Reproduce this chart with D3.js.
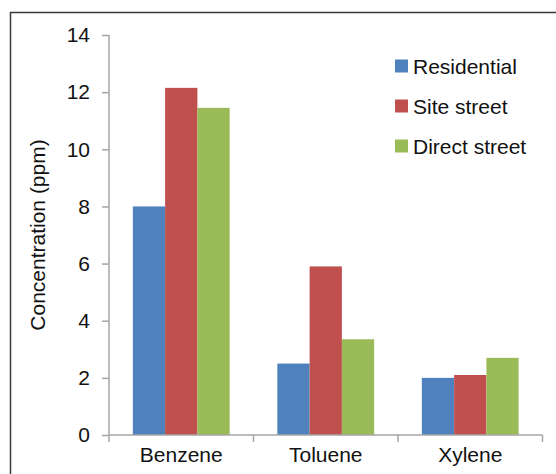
<!DOCTYPE html>
<html>
<head>
<meta charset="utf-8">
<script src="https://cdn.jsdelivr.net/npm/d3@7"></script>
<style>
  html, body { margin: 0; padding: 0; background: #fff; }
  svg { display: block; font-family: "Liberation Sans", Arial, sans-serif; }
</style>
</head>
<body>
<svg id="chart" width="556" height="474"></svg>
<script>
// Pollutant concentrations by sampling location
const compounds = ["Benzene", "Toluene", "Xylene"];
const locations = ["Residential", "Site street", "Direct street"];
const residential = [8.0, 2.5, 2.0];
const siteStreet = [12.15, 5.9, 2.1];
const directStreet = [11.45, 3.35, 2.7];
const yTicks = [0, 2, 4, 6, 8, 10, 12, 14];
const colors = ["#4F81BD", "#C0504D", "#9BBB59"];

const seriesValues = [residential, siteStreet, directStreet];
const FONT = "21px";

const svg = d3.select("#chart");
const margin = { left: 109, right: 13.5, top: 35, bottom: 39 };
const W = 556, H = 474;

// outer frame
svg.append("rect")
  .attr("x", 10.5).attr("y", 12.5)
  .attr("width", 560).attr("height", 480)
  .attr("fill", "none").attr("stroke", "#3a3a3a").attr("stroke-width", 1.5);

const x = d3.scaleBand()
  .domain(compounds)
  .range([margin.left, W - margin.right])
  .paddingInner(0).paddingOuter(0);

// each group of bars occupies the middle two thirds of its band
const x1 = d3.scaleBand()
  .domain(locations)
  .range([x.bandwidth() * 0.165, x.bandwidth() * 0.835])
  .paddingInner(0).paddingOuter(0);

const y = d3.scaleLinear().domain([0, 14]).range([H - margin.bottom, margin.top]);

// bars
const groups = svg.append("g").selectAll("g")
  .data(compounds)
  .join("g")
  .attr("transform", d => `translate(${x(d)},0)`);

groups.selectAll("rect")
  .data((d, i) => locations.map((loc, j) => ({ loc, value: seriesValues[j][i], j })))
  .join("rect")
  .attr("x", d => x1(d.loc))
  .attr("width", x1.bandwidth())
  .attr("y", d => y(d.value))
  .attr("height", d => y(0) - y(d.value))
  .attr("fill", d => colors[d.j]);

// y axis
const yAxis = svg.append("g")
  .attr("transform", `translate(${margin.left},0)`)
  .call(d3.axisLeft(y).tickValues(yTicks).tickSize(7).tickPadding(12).tickSizeOuter(0));
yAxis.select(".domain").attr("stroke", "#a6a6a6").attr("stroke-width", 1.5)
  .attr("d", `M0,${y(14)}V${y(0)}`);
yAxis.selectAll(".tick line").attr("stroke", "#a6a6a6").attr("stroke-width", 1.5);
yAxis.selectAll(".tick text").attr("fill", "#111").style("font-size", FONT)
  .attr("font-family", "Liberation Sans, Arial, sans-serif");

// x axis with ticks at category boundaries
const xAxisG = svg.append("g").attr("transform", `translate(0,${y(0)})`);
xAxisG.append("line")
  .attr("x1", x.range()[0]).attr("x2", x.range()[1])
  .attr("stroke", "#a6a6a6").attr("stroke-width", 1.5);
const boundaries = compounds.map(c => x(c)).concat([x.range()[1]]);
xAxisG.selectAll("line.bt").data(boundaries).join("line")
  .attr("class", "bt")
  .attr("x1", d => d).attr("x2", d => d)
  .attr("y1", 0).attr("y2", 7)
  .attr("stroke", "#a6a6a6").attr("stroke-width", 1.5);
xAxisG.selectAll("text").data(compounds).join("text")
  .attr("x", d => x(d) + x.bandwidth() / 2)
  .attr("y", 27)
  .attr("text-anchor", "middle")
  .attr("fill", "#111")
  .style("font-size", FONT)
  .text(d => d);

// y axis title
svg.append("text")
  .attr("transform", `translate(45,${(y(0) + y(14)) / 2}) rotate(-90)`)
  .attr("text-anchor", "middle")
  .attr("fill", "#111")
  .style("font-size", FONT)
  .text("Concentration (ppm)");

// legend
const legend = svg.append("g");
const legendY = [66, 106, 146];
locations.forEach((loc, i) => {
  legend.append("rect")
    .attr("x", 395).attr("y", legendY[i] - 6.5)
    .attr("width", 13).attr("height", 13)
    .attr("fill", colors[i]);
  legend.append("text")
    .attr("x", 413).attr("y", legendY[i] + 7.5)
    .attr("fill", "#111")
    .style("font-size", FONT)
    .text(loc);
});
</script>
</body>
</html>
